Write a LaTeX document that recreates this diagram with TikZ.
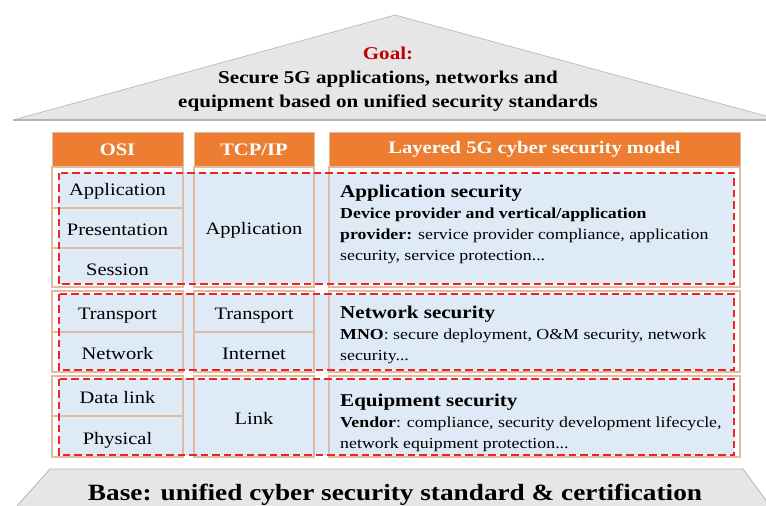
\documentclass[tikz,border=0pt]{standalone}
\usepackage{fontspec}
\setmainfont[FakeStretch=1.17]{Liberation Serif}
\definecolor{hdrorange}{HTML}{ED7D31}
\definecolor{zoneblue}{HTML}{DEEAF6}
\definecolor{celltan}{RGB}{226,186,160}
\definecolor{zonered}{RGB}{236,36,36}
\definecolor{roofgray}{HTML}{E6E6E6}
\definecolor{roofedge}{HTML}{B4B4B4}
\definecolor{goalred}{HTML}{C00000}
\newcommand\secttl{\fontsize{18}{21}\selectfont\bfseries}
\begin{document}
\begin{tikzpicture}[x=1pt,y=-1pt,
  hdr/.style={draw=celltan, line width=0.6pt, fill=hdrorange, text=white,
    font=\fontsize{17.6}{20}\selectfont\bfseries, inner sep=0pt},
  cell/.style={draw=celltan, line width=1.1pt, inner sep=0pt,
    text height=15pt, text depth=0pt,
    font=\fontsize{17.5}{20}\selectfont},
  zone/.style={fill=zoneblue, draw=none, inner sep=0pt},
  zoneline/.style={draw=zonered, line width=1.9pt, dash pattern=on 7.5pt off 4pt},
  desc/.style={anchor=base west, inner sep=0pt, align=left,
    font=\fontsize{15.25}{20.7}\selectfont}]
\useasboundingbox (0,0) rectangle (766,506);

% roof
\fill[roofgray] (13,120) -- (395,15) -- (766,116) -- (766,120) -- cycle;
\draw[roofedge, line width=0.6pt] (13,120) -- (395,15) -- (766,116);
\draw[roofedge, line width=2.2pt] (13,120) -- (766,120);
\node[align=center, font=\fontsize{18}{24}\selectfont\bfseries] (goal) at (388,79)
  {\textcolor{goalred}{Goal:}\\Secure 5G applications, networks and\\equipment based on unified security standards};

% base
\fill[roofgray] (50,469) -- (743,469) -- (770,506) -- (17,506) -- cycle;
\draw[roofedge, line width=0.8pt] (17,506) -- (50,469) -- (743,469) -- (770,506);
\node[anchor=base, inner sep=0pt, font=\fontsize{23.3}{28}\selectfont\bfseries] (base) at (395,500)
  {Base: unified cyber security standard \& certification};

% column headers
\node[hdr, minimum width=131pt, minimum height=35pt] (hosi) at (117.5,149.5) {OSI};
\node[hdr, minimum width=120pt, minimum height=35pt] (htcp) at (254,149.5) {TCP/IP};
\node[hdr, minimum width=411pt, minimum height=35pt] (hsec) at (534.5,149.5) {Layered 5G cyber security model};

% shaded security zones
\node[zone, minimum width=675pt, minimum height=111pt] (z1) at (396.5,228.5) {};
\node[zone, minimum width=675pt, minimum height=76pt] (z2) at (396.5,332) {};
\node[zone, minimum width=675pt, minimum height=76pt] (z3) at (396.5,417) {};

% OSI layers
\node[cell, minimum width=131pt, minimum height=41pt] (oapp) at (117.5,187.5) {Application};
\node[cell, minimum width=131pt, minimum height=40pt] (opre) at (117.5,228) {Presentation};
\node[cell, minimum width=131pt, minimum height=39pt] (oses) at (117.5,267.5) {Session};
\node[cell, minimum width=131pt, minimum height=41pt] (otra) at (117.5,311.5) {Transport};
\node[cell, minimum width=131pt, minimum height=40pt] (onet) at (117.5,352) {Network};
\node[cell, minimum width=131pt, minimum height=40pt] (odat) at (117.5,396) {Data link};
\node[cell, minimum width=131pt, minimum height=41pt] (ophy) at (117.5,436.5) {Physical};

% TCP/IP layers
\node[cell, minimum width=120pt, minimum height=120pt] (tapp) at (254,227) {Application};
\node[cell, minimum width=120pt, minimum height=41pt] (ttra) at (254,311.5) {Transport};
\node[cell, minimum width=120pt, minimum height=40pt] (tint) at (254,352) {Internet};
\node[cell, minimum width=120pt, minimum height=81pt] (tlnk) at (254,416.5) {Link};

% security model layers
\node[cell, minimum width=411pt, minimum height=120pt] (sapp) at (534.5,227) {};
\node[cell, minimum width=411pt, minimum height=81pt] (snet) at (534.5,331.5) {};
\node[cell, minimum width=411pt, minimum height=81pt] (sequ) at (534.5,416.5) {};

% layer descriptions (anchored at the baseline of their last line)
\node[desc] (dapp) at (340,260) {{\secttl Application security}\\
  \textbf{Device provider and vertical/application}\\
  \textbf{provider:} service provider compliance, application\\
  security, service protection...};
\node[desc] (dnet) at (340,360) {{\secttl Network security}\\
  \textbf{MNO}: secure deployment, O\&M security, network\\
  security...};
\node[desc] (dequ) at (340,448) {{\secttl Equipment security}\\
  \textbf{Vendor}: compliance, security development lifecycle,\\
  network equipment protection...};

% dashed zone outlines
\draw[zoneline] (z1.north west) rectangle (z1.south east);
\draw[zoneline] (z2.north west) rectangle (z2.south east);
\draw[zoneline] (z3.north west) rectangle (z3.south east);
\end{tikzpicture}
\end{document}
